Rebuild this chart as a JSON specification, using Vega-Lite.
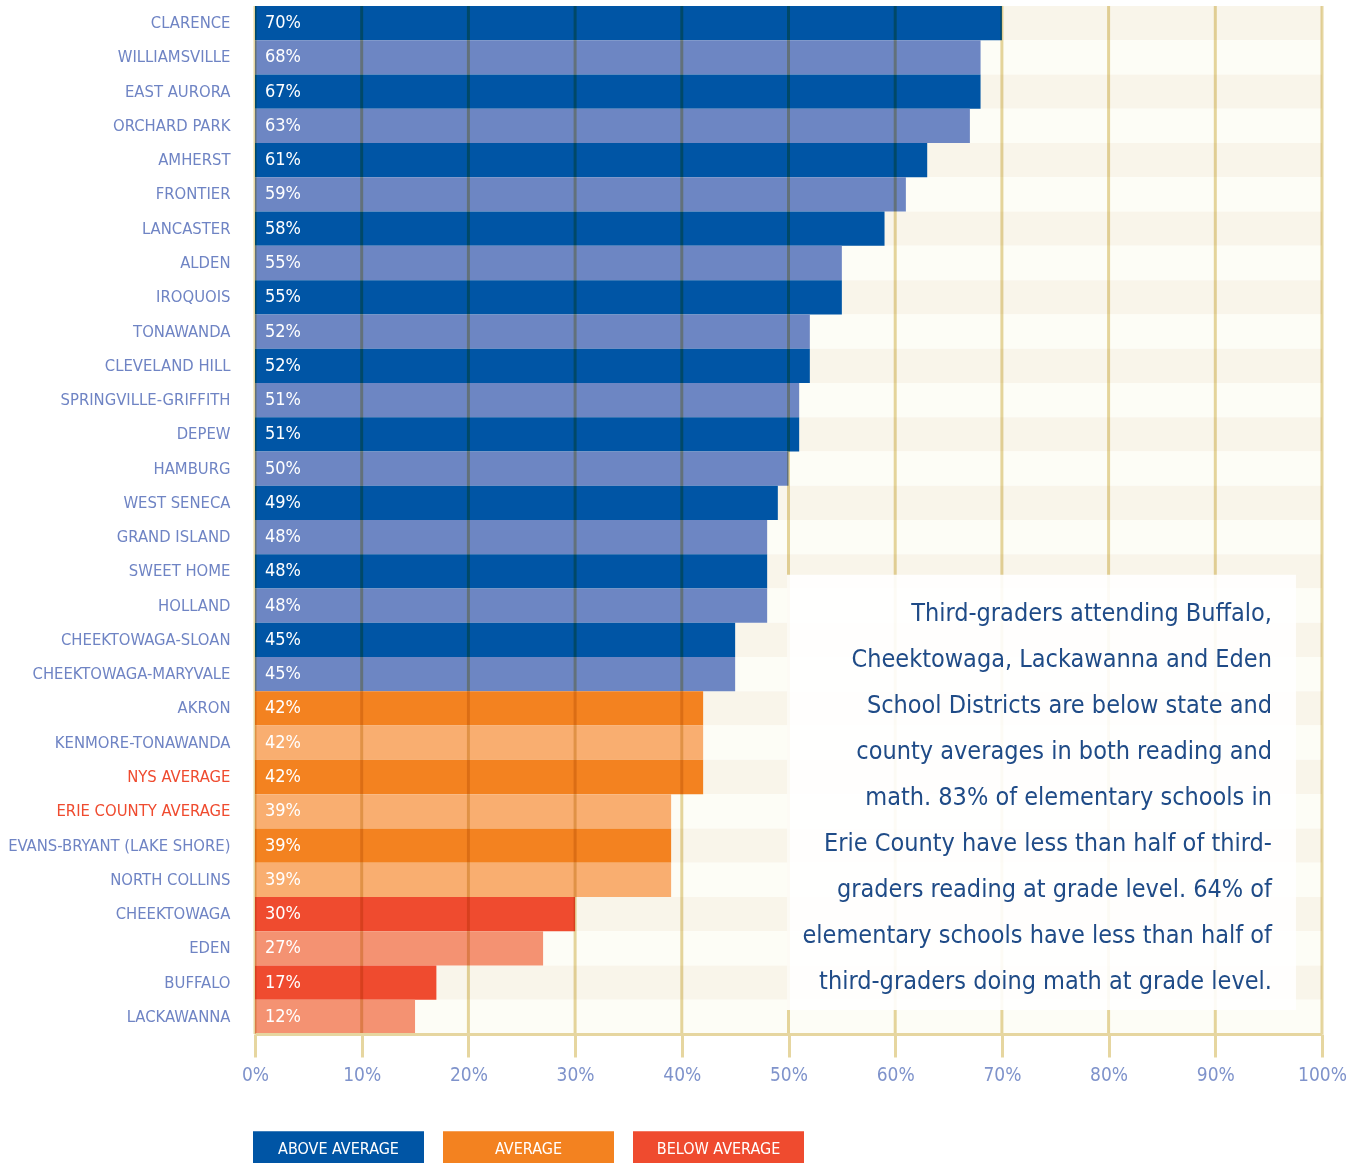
{
  "$schema": "https://vega.github.io/schema/vega-lite/v6.json",
  "autosize": {"type": "none"},
  "width": 1067,
  "height": 1028,
  "padding": {"left": 255, "top": 6, "right": 37, "bottom": 129},
  "background": "#ffffff",
  "config": {
    "view": {"stroke": null},
    "font": "Liberation Sans Narrow, DejaVu Sans Condensed, sans-serif"
  },
  "datasets": {
    "districts": [
      {"district": "CLARENCE", "pct": 70, "label": "70%", "status": "ABOVE AVERAGE"},
      {"district": "WILLIAMSVILLE", "pct": 68, "label": "68%", "status": "ABOVE AVERAGE"},
      {"district": "EAST AURORA", "pct": 68, "label": "67%", "status": "ABOVE AVERAGE"},
      {"district": "ORCHARD PARK", "pct": 67, "label": "63%", "status": "ABOVE AVERAGE"},
      {"district": "AMHERST", "pct": 63, "label": "61%", "status": "ABOVE AVERAGE"},
      {"district": "FRONTIER", "pct": 61, "label": "59%", "status": "ABOVE AVERAGE"},
      {"district": "LANCASTER", "pct": 59, "label": "58%", "status": "ABOVE AVERAGE"},
      {"district": "ALDEN", "pct": 55, "label": "55%", "status": "ABOVE AVERAGE"},
      {"district": "IROQUOIS", "pct": 55, "label": "55%", "status": "ABOVE AVERAGE"},
      {"district": "TONAWANDA", "pct": 52, "label": "52%", "status": "ABOVE AVERAGE"},
      {"district": "CLEVELAND HILL", "pct": 52, "label": "52%", "status": "ABOVE AVERAGE"},
      {"district": "SPRINGVILLE-GRIFFITH", "pct": 51, "label": "51%", "status": "ABOVE AVERAGE"},
      {"district": "DEPEW", "pct": 51, "label": "51%", "status": "ABOVE AVERAGE"},
      {"district": "HAMBURG", "pct": 50, "label": "50%", "status": "ABOVE AVERAGE"},
      {"district": "WEST SENECA", "pct": 49, "label": "49%", "status": "ABOVE AVERAGE"},
      {"district": "GRAND ISLAND", "pct": 48, "label": "48%", "status": "ABOVE AVERAGE"},
      {"district": "SWEET HOME", "pct": 48, "label": "48%", "status": "ABOVE AVERAGE"},
      {"district": "HOLLAND", "pct": 48, "label": "48%", "status": "ABOVE AVERAGE"},
      {"district": "CHEEKTOWAGA-SLOAN", "pct": 45, "label": "45%", "status": "ABOVE AVERAGE"},
      {"district": "CHEEKTOWAGA-MARYVALE", "pct": 45, "label": "45%", "status": "ABOVE AVERAGE"},
      {"district": "AKRON", "pct": 42, "label": "42%", "status": "AVERAGE"},
      {"district": "KENMORE-TONAWANDA", "pct": 42, "label": "42%", "status": "AVERAGE"},
      {"district": "NYS AVERAGE", "pct": 42, "label": "42%", "status": "AVERAGE"},
      {"district": "ERIE COUNTY AVERAGE", "pct": 39, "label": "39%", "status": "AVERAGE"},
      {"district": "EVANS-BRYANT (LAKE SHORE)", "pct": 39, "label": "39%", "status": "AVERAGE"},
      {"district": "NORTH COLLINS", "pct": 39, "label": "39%", "status": "AVERAGE"},
      {"district": "CHEEKTOWAGA", "pct": 30, "label": "30%", "status": "BELOW AVERAGE"},
      {"district": "EDEN", "pct": 27, "label": "27%", "status": "BELOW AVERAGE"},
      {"district": "BUFFALO", "pct": 17, "label": "17%", "status": "BELOW AVERAGE"},
      {"district": "LACKAWANNA", "pct": 15, "label": "12%", "status": "BELOW AVERAGE"}
    ],
    "gridlines": [
      {"tick": 0}, {"tick": 10}, {"tick": 20}, {"tick": 30}, {"tick": 40}, {"tick": 50},
      {"tick": 60}, {"tick": 70}, {"tick": 80}, {"tick": 90}, {"tick": 100}
    ],
    "note": [
      {"text": "Third-graders attending Buffalo,\nCheektowaga, Lackawanna and Eden\nSchool Districts are below state and\ncounty averages in both reading and\nmath. 83% of elementary schools in\nErie County have less than half of third-\ngraders reading at grade level. 64% of\nelementary schools have less than half of\nthird-graders doing math at grade level."}
    ]
  },
  "layer": [
    {
      "data": {"name": "districts"},
      "transform": [
        {"window": [{"op": "row_number", "as": "rank"}]},
        {"calculate": "datum.status + (datum.rank % 2 === 0 ? ' alt' : '')", "as": "shade"}
      ],
      "layer": [
        {
          "mark": {"type": "bar"},
          "encoding": {
            "y": {
              "field": "district", "type": "nominal", "sort": null,
              "scale": {"paddingInner": 0, "paddingOuter": 0},
              "axis": {
                "title": null, "ticks": false, "tickSize": 0, "domain": false, "grid": false,
                "labelPadding": 25, "labelFontSize": 16.5, "labelLimit": 400,
                "labelFont": "Liberation Sans Narrow, DejaVu Sans Condensed, sans-serif",
                "labelColor": {"condition": {"test": "indexof(datum.value, 'AVERAGE') >= 0", "value": "#ef4b2f"}, "value": "#6f84c4"}
              }
            },
            "x": {
              "datum": 0, "type": "quantitative",
              "scale": {"domain": [0, 100], "nice": false, "zero": false},
              "axis": {
                "title": null, "values": [0, 10, 20, 30, 40, 50, 60, 70, 80, 90, 100],
                "labelExpr": "datum.value + '%'", "grid": false, "zindex": 1, "labelFlush": false,
                "tickSize": 23, "tickWidth": 3, "tickColor": "#e6d6a0",
                "domainColor": "#e6d6a0", "domainWidth": 3,
                "labelFontSize": 19, "labelColor": "#7f93cb", "labelPadding": 8,
                "labelFont": "Liberation Sans Narrow, DejaVu Sans Condensed, sans-serif"
              }
            },
            "x2": {"datum": 100},
            "fill": {"condition": {"test": "datum.rank % 2 === 1", "value": "#f9f5ea"}, "value": "#fdfdf6"}
          }
        },
        {
          "mark": {"type": "bar"},
          "encoding": {
            "y": {"field": "district", "type": "nominal", "sort": null},
            "x": {"field": "pct", "type": "quantitative"},
            "fill": {
              "field": "shade", "type": "nominal",
              "scale": {
                "domain": ["ABOVE AVERAGE", "ABOVE AVERAGE alt", "AVERAGE", "AVERAGE alt", "BELOW AVERAGE", "BELOW AVERAGE alt"],
                "range": ["#0055a5", "#6d86c3", "#f38220", "#f9ae70", "#ef4b2f", "#f49272"]
              },
              "legend": {
                "values": ["ABOVE AVERAGE", "AVERAGE", "BELOW AVERAGE"],
                "title": null, "orient": "none", "legendX": -2, "legendY": 1057.5,
                "direction": "horizontal", "columns": 3, "columnPadding": 19, "padding": 0,
                "symbolType": "M-1,-0.21H1V0.21H-1Z", "symbolSize": 29241,
                "symbolStrokeWidth": 0, "symbolOpacity": 1,
                "labelOffset": -85.5, "labelAlign": "center", "labelBaseline": "middle", "labelColor": "#ffffff",
                "labelFontSize": 16, "labelLimit": 200,
                "labelFont": "Liberation Sans Narrow, DejaVu Sans Condensed, sans-serif"
              }
            }
          }
        },
        {
          "mark": {"type": "text", "align": "left", "baseline": "middle", "dx": 10, "fontSize": 18, "color": "#ffffff"},
          "encoding": {
            "y": {"field": "district", "type": "nominal", "sort": null},
            "x": {"datum": 0, "type": "quantitative"},
            "text": {"field": "label"}
          }
        }
      ]
    },
    {
      "data": {"name": "gridlines"},
      "mark": {"type": "rule", "color": "#e6d6a0", "strokeWidth": 3, "blend": "multiply"},
      "encoding": {"x": {"field": "tick", "type": "quantitative"}}
    },
    {
      "data": {"name": "note"},
      "layer": [
        {
          "mark": {"type": "rect", "fill": "#ffffff", "opacity": 0.9},
          "encoding": {
            "x": {"datum": 49.86, "type": "quantitative"},
            "x2": {"datum": 97.56},
            "y": {"datum": 16.6, "type": "quantitative", "scale": {"domain": [0, 30], "reverse": true, "nice": false, "zero": false}, "axis": null},
            "y2": {"datum": 29.3}
          }
        },
        {
          "mark": {"type": "text", "align": "right", "baseline": "middle", "lineBreak": "\n", "lineHeight": 46, "fontSize": 25, "color": "#1f4b87"},
          "encoding": {
            "x": {"datum": 95.31, "type": "quantitative"},
            "y": {"datum": 17.72, "type": "quantitative"},
            "text": {"field": "text"}
          }
        }
      ]
    }
  ],
  "resolve": {"scale": {"y": "independent"}}
}
